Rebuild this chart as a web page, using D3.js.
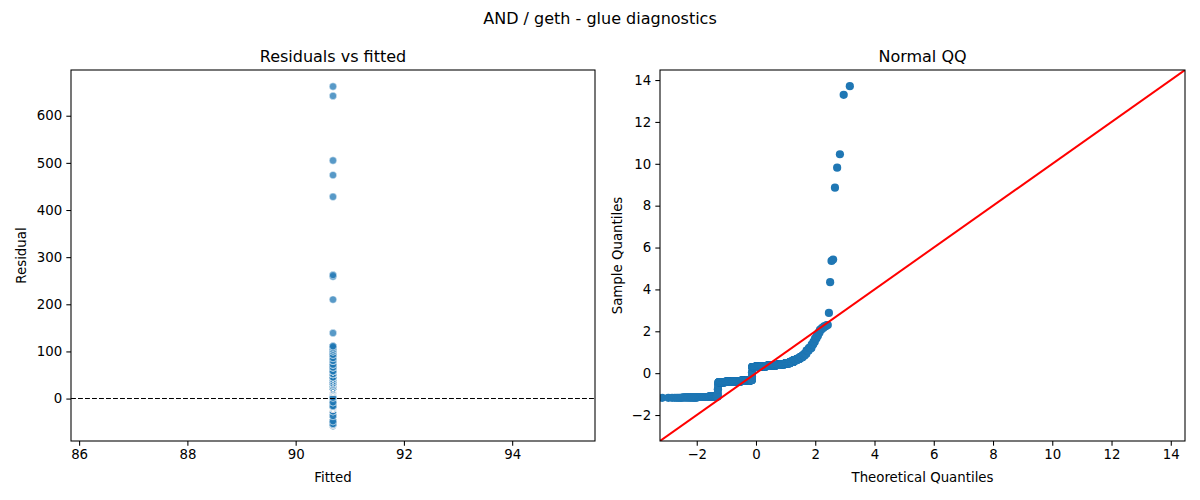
<!DOCTYPE html>
<html><head><meta charset="utf-8">
<script src="https://cdn.jsdelivr.net/npm/d3@7"></script>
<style>
body{margin:0;background:#fff}
svg text{font-family:"DejaVu Sans",sans-serif;fill:#000}
</style>
</head><body>
<svg id="chart" width="1200" height="500"></svg>
<script>
// ---------------- data ----------------
const figureTitle = "AND / geth - glue diagnostics";
const panelTitles = ["Residuals vs fitted", "Normal QQ"];
const axisLabels = { leftX: "Fitted", leftY: "Residual", rightX: "Theoretical Quantiles", rightY: "Sample Quantiles" };

// intercept-only model: every observation has the same fitted value
const fittedValue = 90.69;

// residual values and how many observations sit at each value
const residualLevels = [-57, -56, -55, -54, -48, -37, -27,
  -21, -20, -19, -18, -17, -16, -8, 2,
  14, 15, 16, 17, 18, 19,
  21, 23, 26, 30, 33, 37, 41, 45, 52, 58, 66, 72, 80, 86, 93, 100, 104, 108, 111,
  139, 210, 259, 262, 428, 474, 505, 642, 662];
const residualCounts = [8, 22, 42, 54, 2, 2, 2,
  60, 90, 110, 100, 60, 26, 2, 2,
  60, 100, 90, 80, 70, 60,
  50, 44, 30, 24, 20, 14, 10, 8, 9, 9, 5, 4, 4, 3, 3, 3, 3, 3, 2,
  1, 1, 1, 1, 1, 1, 1, 1, 1];
// scale used to standardise residuals for the QQ panel
const residualScale = 48.3;

const fittedTicks = [86, 88, 90, 92, 94];
const residualTicks = [0, 100, 200, 300, 400, 500, 600];
const qqTicks = [-2, 0, 2, 4, 6, 8, 10, 12, 14];
const fittedDomain = [85.85, 95.53];
const residualDomain = [-90, 697];
const qqDomain = [-3.24, 14.48];

// ---------------- helpers ----------------
function invNorm(p) { // Acklam's inverse normal CDF
  const a = [-3.969683028665376e+01, 2.209460984245205e+02, -2.759285104469687e+02, 1.383577518672690e+02, -3.066479806614716e+01, 2.506628277459239e+00];
  const b = [-5.447609879822406e+01, 1.615858368580409e+02, -1.556989798598866e+02, 6.680131188771972e+01, -1.328068155288572e+01];
  const c = [-7.784894002430293e-03, -3.223964580411365e-01, -2.400758277161838e+00, -2.549732539343734e+00, 4.374664141464968e+00, 2.938163982698783e+00];
  const d = [7.784695709041462e-03, 3.224671290700398e-01, 2.445134137142996e+00, 3.754408661907416e+00];
  const pl = 0.02425, ph = 1 - pl;
  let q, r;
  if (p < pl) { q = Math.sqrt(-2 * Math.log(p));
    return (((((c[0]*q+c[1])*q+c[2])*q+c[3])*q+c[4])*q+c[5]) / ((((d[0]*q+d[1])*q+d[2])*q+d[3])*q+1); }
  if (p > ph) { q = Math.sqrt(-2 * Math.log(1 - p));
    return -(((((c[0]*q+c[1])*q+c[2])*q+c[3])*q+c[4])*q+c[5]) / ((((d[0]*q+d[1])*q+d[2])*q+d[3])*q+1); }
  q = p - 0.5; r = q * q;
  return (((((a[0]*r+a[1])*r+a[2])*r+a[3])*r+a[4])*r+a[5])*q / (((((b[0]*r+b[1])*r+b[2])*r+b[3])*r+b[4])*r+1);
}

const residuals = [];
residualLevels.forEach((v, i) => { for (let k = 0; k < residualCounts[i]; k++) residuals.push(v); });
residuals.sort((a, b) => a - b);
const n = residuals.length;
const qqPoints = residuals.map((r, i) => ({ t: invNorm((i + 1) / (n + 1)), s: r / residualScale }));

// ---------------- drawing ----------------
const svg = d3.select("#chart");
const blue = "#1f77b4";
const tickFont = "13.33px";
const labelFont = "13.33px";

svg.append("text").attr("x", 600).attr("y", 24).attr("text-anchor", "middle")
  .style("font-size", "16px").text(figureTitle);

function styleAxis(g) {
  g.selectAll("path").remove();
  g.selectAll("line").attr("stroke", "#000").attr("stroke-width", 1.07);
  g.selectAll("text").style("font-size", tickFont).attr("fill", "#000");
}

function panel(box, xScale, yScale, xTicks, yTicks, title, xl, yl, yLabelX, id) {
  const g = svg.append("g");
  svg.append("clipPath").attr("id", id).append("rect")
    .attr("x", box.x0).attr("y", box.y0).attr("width", box.x1 - box.x0).attr("height", box.y1 - box.y0);
  g.append("text").attr("x", (box.x0 + box.x1) / 2).attr("y", 62).attr("text-anchor", "middle")
    .style("font-size", "16px").text(title);
  const xa = g.append("g").attr("transform", `translate(0,${box.y1})`)
    .call(d3.axisBottom(xScale).tickValues(xTicks).tickSize(4.67).tickPadding(4.2).tickFormat(d3.format("d")));
  styleAxis(xa);
  const ya = g.append("g").attr("transform", `translate(${box.x0},0)`)
    .call(d3.axisLeft(yScale).tickValues(yTicks).tickSize(4.67).tickPadding(4.2).tickFormat(d3.format("d")));
  styleAxis(ya);
  g.append("text").attr("x", (box.x0 + box.x1) / 2).attr("y", 482).attr("text-anchor", "middle")
    .style("font-size", labelFont).text(xl);
  g.append("text").attr("transform", `translate(${yLabelX},${(box.y0 + box.y1) / 2}) rotate(-90)`)
    .attr("text-anchor", "middle").style("font-size", labelFont).text(yl);
  const plot = g.append("g").attr("clip-path", `url(#${id})`);
  return { g, plot };
}

// Left panel
const L = { x0: 71, x1: 595, y0: 70, y1: 441 };
const lx = d3.scaleLinear().domain(fittedDomain).range([L.x0, L.x1]);
const ly = d3.scaleLinear().domain(residualDomain).range([L.y1, L.y0]);
const left = panel(L, lx, ly, fittedTicks, residualTicks, panelTitles[0], axisLabels.leftX, axisLabels.leftY, 26, "clipL");
left.plot.selectAll("circle").data(residuals).join("circle")
  .attr("cx", lx(fittedValue)).attr("cy", d => ly(d)).attr("r", 3.7)
  .attr("fill", blue).attr("fill-opacity", 0.75)
  .attr("stroke", "#fff").attr("stroke-width", 0.6).attr("stroke-opacity", 0.75);
left.plot.append("line").attr("x1", L.x0).attr("x2", L.x1).attr("y1", ly(0)).attr("y2", ly(0))
  .attr("stroke", "#000").attr("stroke-width", 1.1).attr("stroke-dasharray", "4.9,2.1");
left.g.append("rect").attr("x", L.x0).attr("y", L.y0).attr("width", L.x1 - L.x0).attr("height", L.y1 - L.y0)
  .attr("fill", "none").attr("stroke", "#000").attr("stroke-width", 1.07);

// Right panel
const R = { x0: 660, x1: 1185, y0: 70, y1: 441 };
const rx = d3.scaleLinear().domain(qqDomain).range([R.x0, R.x1]);
const ry = d3.scaleLinear().domain(qqDomain).range([R.y1, R.y0]);
const right = panel(R, rx, ry, qqTicks, qqTicks, panelTitles[1], axisLabels.rightX, axisLabels.rightY, 622, "clipR");
right.plot.selectAll("circle").data(qqPoints).join("circle")
  .attr("cx", d => rx(d.t)).attr("cy", d => ry(d.s)).attr("r", 4.1).attr("fill", blue);
right.plot.append("line")
  .attr("x1", rx(qqDomain[0])).attr("y1", ry(qqDomain[0]))
  .attr("x2", rx(qqDomain[1])).attr("y2", ry(qqDomain[1]))
  .attr("stroke", "red").attr("stroke-width", 2);
right.g.append("rect").attr("x", R.x0).attr("y", R.y0).attr("width", R.x1 - R.x0).attr("height", R.y1 - R.y0)
  .attr("fill", "none").attr("stroke", "#000").attr("stroke-width", 1.07);
</script>
</body></html>
